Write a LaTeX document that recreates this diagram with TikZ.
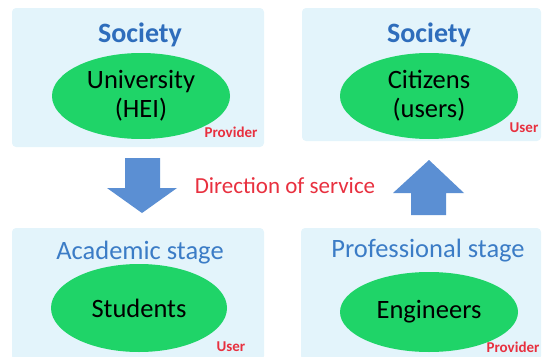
\documentclass[tikz,border=0pt]{standalone}
\usepackage{fontspec}
\setmainfont{Carlito}
\usetikzlibrary{shapes.geometric}
\definecolor{panelbg}{HTML}{E3F4FB}
\definecolor{ellgreen}{HTML}{1FD468}
\definecolor{socblue}{HTML}{2E6DBC}
\definecolor{stageblue}{HTML}{3B7CC6}
\definecolor{arrowblue}{HTML}{5B8FD3}
\definecolor{redtxt}{HTML}{E8303F}
\tikzset{
  panel/.style={fill=panelbg, draw=none, rounded corners=4pt},
  ell/.style={ellipse, fill=ellgreen, draw=none, inner sep=0pt, minimum width=178pt, minimum height=86pt, align=center, font=\fontsize{26.5}{29}\selectfont, text=black},
  soc/.style={font=\fontsize{28}{31}\selectfont\bfseries, text=socblue},
  stage/.style={font=\fontsize{26.5}{29}\selectfont, text=stageblue},
  role/.style={font=\fontsize{15}{16}\selectfont\bfseries, text=redtxt},
  blockarrow/.style={fill=arrowblue, draw=none}
}
\begin{document}
\begin{tikzpicture}[x=1pt,y=-1pt]
\useasboundingbox (0,0) rectangle (543,356);
% panels
\fill[panel] (12,8) rectangle (264,147);
\fill[panel] (302,8) rectangle (541,141);
\fill[panel] (12,228) rectangle (264,360);
\fill[panel] (301,228) rectangle (541,360);
% top-left
\node[soc] (soc1) at (140,35) {Society};
\node[ell] (univ) at (141,96) {University\\(HEI)};
\node[role] (prov1) at (231,132) {Provider};
% top-right
\node[soc] (soc2) at (429,35) {Society};
\node[ell] (cit) at (429,96) {Citizens\\(users)};
\node[role] (user1) at (524,128) {User};
% arrows
\fill[blockarrow] (125,158) -- (160,158) -- (160,188) -- (177,188) -- (142,213) -- (107,188) -- (125,188) -- cycle;
\fill[blockarrow] (411,215) -- (446,215) -- (446,193) -- (464,193) -- (429,160) -- (393,193) -- (411,193) -- cycle;
\node[font=\fontsize{23}{25}\selectfont, text=redtxt] (dir) at (285,186) {Direction of service};
% bottom-left
\node[stage] (acad) at (140,253) {Academic stage};
\node[ell, minimum height=88pt, minimum width=176pt] (stud) at (139,308) {Students};
\node[role] (user2) at (231,347) {User};
% bottom-right
\node[stage] (prof) at (428,251) {Professional stage};
\node[ell, minimum height=80pt] (eng) at (429,312) {Engineers};
\node[role] (prov2) at (513,347) {Provider};
\end{tikzpicture}
\end{document}
